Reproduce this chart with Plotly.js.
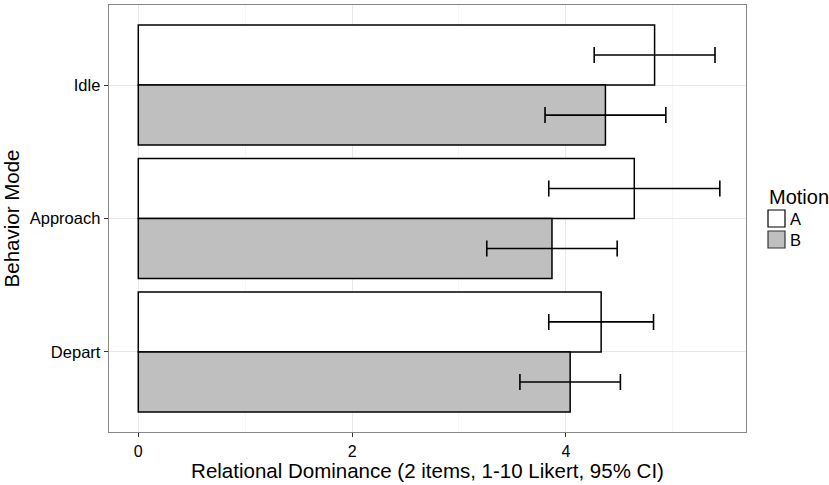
<!DOCTYPE html>
<html>
<head>
<meta charset="utf-8">
<script src="https://cdn.plot.ly/plotly-3.0.1.min.js"></script>
<style>html,body{margin:0;padding:0;background:#fff}#chart{width:829px;height:485px}</style>
</head>
<body>
<div id="chart"></div>
<script>
const categories = ['Idle', 'Approach', 'Depart'];
const motionA = [4.83, 4.64, 4.33];
const motionB = [4.37, 3.87, 4.04];
const ciA = [0.565, 0.80, 0.49];
const ciB = [0.565, 0.61, 0.47];
const legendTitle = 'Motion';
const legendLabels = ['A', 'B'];
const fills = ['#ffffff', '#bfbfbf'];

const font = 'Liberation Sans, Arial, Helvetica, sans-serif';

const traces = [
  {
    type: 'bar', orientation: 'h', name: legendLabels[0],
    y: categories, x: motionA,
    marker: {color: fills[0], line: {color: '#000000', width: 1.5}},
    error_x: {type: 'data', array: ciA, visible: true, color: '#000000', thickness: 1.6, width: 8}
  },
  {
    type: 'bar', orientation: 'h', name: legendLabels[1],
    y: categories, x: motionB,
    marker: {color: fills[1], line: {color: '#000000', width: 1.5}},
    error_x: {type: 'data', array: ciB, visible: true, color: '#000000', thickness: 1.6, width: 8}
  }
];

// custom legend (paper coordinates)
const px = v => (v - 109) / 637;
const py = v => (432 - v) / 427;
const shapes = [
  {type: 'rect', xref: 'paper', yref: 'paper', x0: px(768), x1: px(785), y0: py(227), y1: py(210),
   fillcolor: fills[0], line: {color: '#000000', width: 1.2}},
  {type: 'rect', xref: 'paper', yref: 'paper', x0: px(768), x1: px(785), y0: py(248), y1: py(231),
   fillcolor: fills[1], line: {color: '#333333', width: 1.2}}
];
const annotations = [
  {xref: 'paper', yref: 'paper', x: px(767), y: py(197), text: legendTitle, showarrow: false,
   xanchor: 'left', yanchor: 'middle', font: {size: 20, color: '#000000'}},
  {xref: 'paper', yref: 'paper', x: px(788), y: py(218.5), text: legendLabels[0], showarrow: false,
   xanchor: 'left', yanchor: 'middle', font: {size: 16.5, color: '#000000'}},
  {xref: 'paper', yref: 'paper', x: px(788), y: py(239.5), text: legendLabels[1], showarrow: false,
   xanchor: 'left', yanchor: 'middle', font: {size: 16.5, color: '#000000'}}
];

const layout = {
  width: 829, height: 485,
  margin: {l: 109, r: 83, t: 5, b: 53},
  paper_bgcolor: '#ffffff', plot_bgcolor: '#ffffff',
  barmode: 'group', bargap: 0.1, bargroupgap: 0,
  font: {family: font, color: '#000000'},
  xaxis: {
    range: [-0.274, 5.685],
    tickvals: [0, 2, 4], ticktext: ['0', '2', '4'],
    ticks: 'outside', ticklen: 4, tickcolor: '#333333', tickwidth: 1,
    tickfont: {size: 16, color: '#000000'},
    showgrid: true, gridcolor: '#e8e8e8', gridwidth: 1,
    minor: {tickvals: [1, 3, 5], showgrid: true, gridcolor: '#f5f5f5', gridwidth: 1, ticks: ''},
    zeroline: false,
    showline: true, linecolor: '#888888', linewidth: 1.3, mirror: true,
    title: {text: 'Relational Dominance (2 items, 1-10 Likert, 95% CI)', font: {size: 20.5, color: '#000000'}, standoff: 4}
  },
  yaxis: {
    type: 'category',
    categoryorder: 'array', categoryarray: categories,
    range: [2.6, -0.6],
    ticks: 'outside', ticklen: 4, tickcolor: '#333333', tickwidth: 1,
    tickfont: {size: 16.5, color: '#000000'},
    showgrid: true, gridcolor: '#e8e8e8', gridwidth: 1,
    zeroline: false,
    showline: true, linecolor: '#888888', linewidth: 1.3, mirror: true,
    title: {text: 'Behavior Mode', font: {size: 20.5, color: '#000000'}, standoff: 4}
  },
  showlegend: false,
  shapes: shapes,
  annotations: annotations
};

Plotly.newPlot('chart', traces, layout, {displayModeBar: false, staticPlot: true});
</script>
</body>
</html>
